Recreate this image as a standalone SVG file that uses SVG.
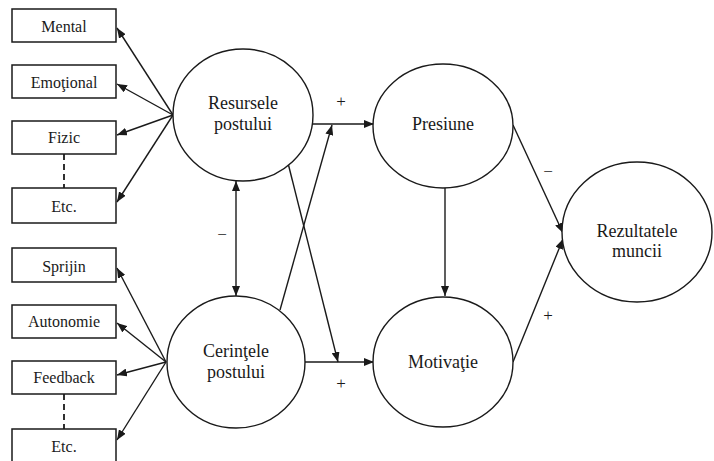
<svg xmlns="http://www.w3.org/2000/svg" width="714" height="461" viewBox="0 0 714 461">
<style>
.box{fill:#fff;stroke:#1a1a1a;stroke-width:1.5}
.node{fill:#fff;stroke:#1a1a1a;stroke-width:1.4}
text{fill:#1a1a1a;text-anchor:middle}
.t{font-size:16px}
.c{font-size:18px}
.s{font-size:17px}
.l{fill:none;stroke:#1a1a1a;stroke-width:1.4}
.d{fill:none;stroke:#1a1a1a;stroke-width:1.8;stroke-dasharray:6,4}
</style>
<defs>
<marker id="ah" viewBox="0 0 10 8" refX="10" refY="4" markerWidth="10" markerHeight="8" markerUnits="userSpaceOnUse" orient="auto-start-reverse">
<path d="M0,0 L10,4 L0,8 Z" fill="#1a1a1a"/>
</marker>
</defs>
<rect width="714" height="461" fill="#fff"/>
<g font-family="Liberation Serif, DejaVu Serif, serif">
<g id="connectors">
<line class="d" x1="64" y1="154" x2="64" y2="188"/>
<line class="d" x1="64" y1="394" x2="64" y2="429"/>
<line class="l" x1="173" y1="115" x2="117" y2="28" marker-end="url(#ah)"/>
<line class="l" x1="173" y1="115" x2="117" y2="84" marker-end="url(#ah)"/>
<line class="l" x1="173" y1="115" x2="117" y2="135" marker-end="url(#ah)"/>
<line class="l" x1="173" y1="115" x2="117" y2="202" marker-end="url(#ah)"/>
<line class="l" x1="166" y1="362" x2="117" y2="268" marker-end="url(#ah)"/>
<line class="l" x1="166" y1="362" x2="117" y2="323" marker-end="url(#ah)"/>
<line class="l" x1="166" y1="362" x2="117" y2="375" marker-end="url(#ah)"/>
<line class="l" x1="166" y1="362" x2="117" y2="440" marker-end="url(#ah)"/>
<line class="l" x1="236" y1="181" x2="236" y2="296" marker-start="url(#ah)" marker-end="url(#ah)"/>
<line class="l" x1="312" y1="124" x2="374" y2="124" marker-end="url(#ah)"/>
<line class="l" x1="280" y1="310" x2="332" y2="125" marker-end="url(#ah)"/>
<line class="l" x1="288" y1="163" x2="338" y2="362" marker-end="url(#ah)"/>
<line class="l" x1="305" y1="362" x2="374" y2="362" marker-end="url(#ah)"/>
<line class="l" x1="445" y1="188" x2="445" y2="296" marker-end="url(#ah)"/>
<line class="l" x1="513" y1="125" x2="563" y2="233" marker-end="url(#ah)"/>
<line class="l" x1="513" y1="362" x2="563" y2="239" marker-end="url(#ah)"/>
<text class="s" x="222" y="240">−</text>
<text class="s" x="341" y="107">+</text>
<text class="s" x="341" y="389">+</text>
<text class="s" x="548" y="177">−</text>
<text class="s" x="548" y="321">+</text>
</g>
<g id="mental"><rect class="box" x="12" y="9" width="104" height="33"/><text class="t" x="64" y="32">Mental</text></g>
<g id="emotional"><rect class="box" x="12" y="65" width="104" height="33"/><text class="t" x="64" y="88">Emoţional</text></g>
<g id="fizic"><rect class="box" x="12" y="121" width="104" height="33"/><text class="t" x="64" y="143">Fizic</text></g>
<g id="etc1"><rect class="box" x="12" y="188" width="104" height="35"/><text class="t" x="64" y="212">Etc.</text></g>
<g id="sprijin"><rect class="box" x="12" y="248" width="104" height="34"/><text class="t" x="64" y="272">Sprijin</text></g>
<g id="autonomie"><rect class="box" x="12" y="305" width="104" height="33"/><text class="t" x="64" y="327">Autonomie</text></g>
<g id="feedback"><rect class="box" x="12" y="361" width="104" height="33"/><text class="t" x="64" y="383">Feedback</text></g>
<g id="etc2"><rect class="box" x="12" y="429" width="104" height="35"/><text class="t" x="64" y="452">Etc.</text></g>
<g id="resursele"><ellipse class="node" cx="243" cy="115" rx="70" ry="66"/><text class="c" x="243" y="109">Resursele</text><text class="c" x="243" y="130">postului</text></g>
<g id="cerintele"><ellipse class="node" cx="236" cy="362" rx="69" ry="66"/><text class="c" x="236" y="357">Cerinţele</text><text class="c" x="236" y="378">postului</text></g>
<g id="presiune"><ellipse class="node" cx="443" cy="126" rx="70" ry="62"/><text class="c" x="443" y="130">Presiune</text></g>
<g id="motivatie"><ellipse class="node" cx="443" cy="362" rx="70" ry="65"/><text class="c" x="443" y="368">Motivaţie</text></g>
<g id="rezultatele"><ellipse class="node" cx="637" cy="232" rx="75" ry="70"/><text class="c" x="637" y="237">Rezultatele</text><text class="c" x="637" y="257">muncii</text></g>
</g>
</svg>
